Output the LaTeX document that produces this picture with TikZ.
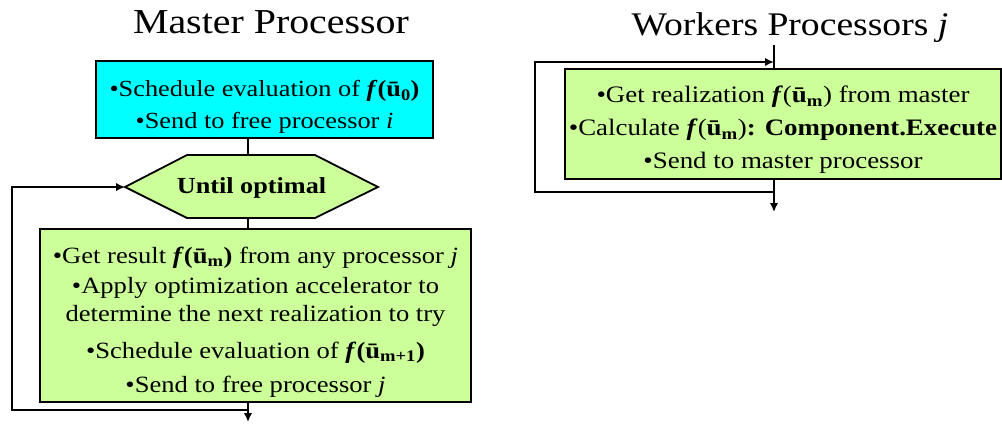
\documentclass[tikz,border=0pt]{standalone}
\usepackage{fontspec}
\setmainfont{Liberation Serif}[FakeStretch=1.14]
\usetikzlibrary{arrows.meta}
\definecolor{boxgreen}{RGB}{204,255,153}
\definecolor{boxcyan}{RGB}{0,255,255}
\newcommand{\fbu}[1]{\textbf{\textit{f}(ū\textsubscript{#1})}}
\newcommand{\fru}[1]{\textbf{\textit{f}}(\textbf{ū\textsubscript{#1}})}
\begin{document}
\begin{tikzpicture}[x=1pt,y=-1pt,line width=1.8pt,>={Latex[length=9pt,width=8.5pt]}]
\tikzset{
  titletext/.style={anchor=base},
  boxtext/.style={align=center,font=\fontsize{23.3}{29}\selectfont},
  cyanbox/.style={draw,fill=boxcyan,inner sep=0pt},
  greenbox/.style={draw,fill=boxgreen,inner sep=0pt},
  hexshape/.style={draw,fill=boxgreen}
}
\useasboundingbox (0,0) rectangle (1002,424);
% ---------- Master ----------
\node[titletext,font=\fontsize{35}{40}\selectfont] (mtitle) at (271,33) {Master Processor};
\node[cyanbox,minimum width=337pt,minimum height=77pt] (cyan) at (264.5,99.5) {};
\node[boxtext,font=\fontsize{23.1}{32}\selectfont] (cyantext) at (264.5,107)
  {•Schedule evaluation of \fbu{0}\\•Send to free processor \textit{i}};
\coordinate (ht) at (248,155);
\coordinate (hb) at (248,218);
\coordinate (hl) at (125,187);
\coordinate (hr) at (378,187);
\draw[hexshape] (187,155) -- (315,155) -- (hr) -- (315,218) -- (187,218) -- (hl) -- cycle;
\node[font=\fontsize{23}{28}\selectfont\bfseries] (until) at (251.5,188) {Until optimal};
\node[greenbox,minimum width=431pt,minimum height=173pt] (green) at (255.5,315.5) {};
\node[boxtext] (greentext) at (255.5,322)
  {•Get result \fbu{m} from any processor \textit{j}\\[1pt]
   •Apply optimization accelerator to\\[-1pt]
   determine the next realization to try\\[8pt]
   •Schedule evaluation of \fbu{m+1}\\[5pt]
   •Send to free processor \textit{j}};
\draw (ht |- cyan.south) -- (ht);
\draw (hb) -- (hb |- green.north);
\coordinate (mend) at (248,422);
\coordinate (mjoin) at (248,410);
\coordinate (mc1) at (12,410);
\coordinate (mc2) at (12,187);
\draw[->] (green.south -| hb) -- (mend);
\draw[->] (mjoin) -- (mc1) -- (mc2) -- (hl);
% ---------- Workers ----------
\node[titletext,font=\fontsize{33}{38}\selectfont] (wtitle) at (790,35) {Workers Processors \textit{j}};
\node[greenbox,minimum width=436pt,minimum height=110pt] (wbox) at (783,124) {};
\node[boxtext,font=\fontsize{23.6}{33}\selectfont] (wtext) at (783,130)
  {•Get realization \fru{m} from master\\
   •Calculate \fru{m}\textbf{: Component.Execute}\\
   •Send to master processor};
\coordinate (wtop) at (774,45);
\coordinate (wend) at (774,212);
\coordinate (wjoin) at (774,192);
\coordinate (wc1) at (535,192);
\coordinate (wc2) at (535,62);
\coordinate (warr) at (774,62);
\draw (wtop) -- (wtop |- wbox.north);
\draw[->] (wbox.south -| wtop) -- (wend);
\draw[->] (wjoin) -- (wc1) -- (wc2) -- (warr);
\end{tikzpicture}
\end{document}
